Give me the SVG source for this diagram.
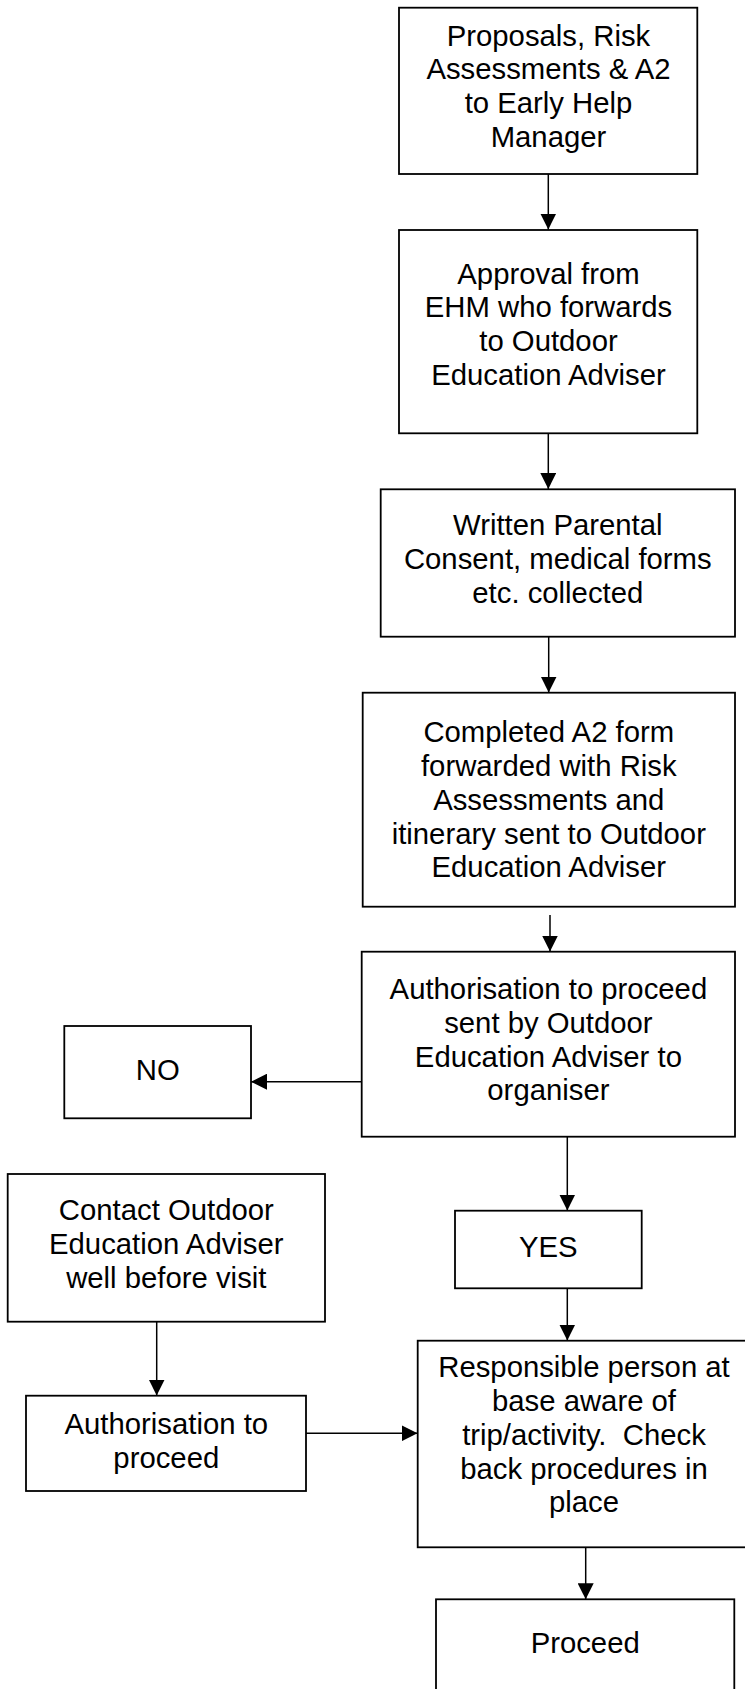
<svg xmlns="http://www.w3.org/2000/svg" width="745" height="1689" viewBox="0 0 745 1689">
<style>
.box{fill:#fff;stroke:#000;stroke-width:1.8}
.t{font-family:"Liberation Sans",Arial,sans-serif;font-size:29.3px;fill:#000;text-anchor:middle;white-space:pre}
.c{stroke:#000;stroke-width:1.5;fill:none;marker-end:url(#ah)}
</style>
<defs>
<marker id="ah" markerUnits="userSpaceOnUse" markerWidth="16" markerHeight="16" refX="16" refY="8" orient="auto" viewBox="0 0 16 16">
<path d="M0,0 L16,8 L0,16 z" fill="#000"/>
</marker>
</defs>
<rect width="745" height="1689" fill="#fff"/>
<g id="connectors">
<path class="c" d="M548.3,174 V229.5"/>
<path class="c" d="M548.3,433.3 V489"/>
<path class="c" d="M548.7,636.7 V692.5"/>
<path class="c" d="M550,915 V951.5"/>
<path class="c" d="M362.5,1081.7 H251"/>
<path class="c" d="M567.3,1136.7 V1210.5"/>
<path class="c" d="M567.3,1285 V1340.5"/>
<path class="c" d="M156.7,1321.7 V1395.5"/>
<path class="c" d="M306,1433.3 H417.5"/>
<path class="c" d="M585.7,1546.7 V1599.3"/>
</g>
<g id="n1">
<rect class="box" x="399" y="7.7" width="298.3" height="166.3"/>
<text class="t" x="548.5" y="45.5">Proposals, Risk</text>
<text class="t" x="548.5" y="79.2">Assessments &amp; A2</text>
<text class="t" x="548.5" y="112.9">to Early Help</text>
<text class="t" x="548.5" y="146.6">Manager</text>
</g>
<g id="n2">
<rect class="box" x="399" y="230" width="298.3" height="203.3"/>
<text class="t" x="548.5" y="283.5">Approval from</text>
<text class="t" x="548.5" y="317.2">EHM who forwards</text>
<text class="t" x="548.5" y="350.9">to Outdoor</text>
<text class="t" x="548.5" y="384.6">Education Adviser</text>
</g>
<g id="n3">
<rect class="box" x="380.7" y="489.3" width="354.3" height="147.4"/>
<text class="t" x="557.8" y="535">Written Parental</text>
<text class="t" x="557.8" y="569">Consent, medical forms</text>
<text class="t" x="557.8" y="603">etc. collected</text>
</g>
<g id="n4">
<rect class="box" x="362.7" y="692.7" width="372.3" height="214"/>
<text class="t" x="548.8" y="741.7">Completed A2 form</text>
<text class="t" x="548.8" y="775.7">forwarded with Risk</text>
<text class="t" x="548.8" y="809.7">Assessments and</text>
<text class="t" x="548.8" y="843.5">itinerary sent to Outdoor</text>
<text class="t" x="548.8" y="877.3">Education Adviser</text>
</g>
<g id="n5">
<rect class="box" x="361.7" y="951.7" width="373.3" height="185"/>
<text class="t" x="548.4" y="999.3">Authorisation to proceed</text>
<text class="t" x="548.4" y="1033">sent by Outdoor</text>
<text class="t" x="548.4" y="1066.7">Education Adviser to</text>
<text class="t" x="548.4" y="1100">organiser</text>
</g>
<g id="n-no">
<rect class="box" x="64.3" y="1026" width="186.7" height="92.3"/>
<text class="t" x="157.7" y="1080">NO</text>
</g>
<g id="n-yes">
<rect class="box" x="455" y="1210.7" width="186.7" height="77.6"/>
<text class="t" x="548.3" y="1257.3">YES</text>
</g>
<g id="n-contact">
<rect class="box" x="7.7" y="1174" width="317.3" height="147.7"/>
<text class="t" x="166.3" y="1220">Contact Outdoor</text>
<text class="t" x="166.3" y="1254">Education Adviser</text>
<text class="t" x="166.3" y="1288">well before visit</text>
</g>
<g id="n-auth">
<rect class="box" x="26" y="1395.7" width="280" height="95.3"/>
<text class="t" x="166.3" y="1434.2">Authorisation to</text>
<text class="t" x="166.3" y="1467.7">proceed</text>
</g>
<g id="n-resp">
<rect class="box" x="417.7" y="1340.7" width="332.3" height="206.6"/>
<text class="t" x="584" y="1377">Responsible person at</text>
<text class="t" x="584" y="1411">base aware of</text>
<text class="t" x="584" y="1445">trip/activity.  Check</text>
<text class="t" x="584" y="1478.5">back procedures in</text>
<text class="t" x="584" y="1512">place</text>
</g>
<g id="n-proceed">
<rect class="box" x="436" y="1599.3" width="298.3" height="100"/>
<text class="t" x="585.2" y="1652.7">Proceed</text>
</g>
</svg>
